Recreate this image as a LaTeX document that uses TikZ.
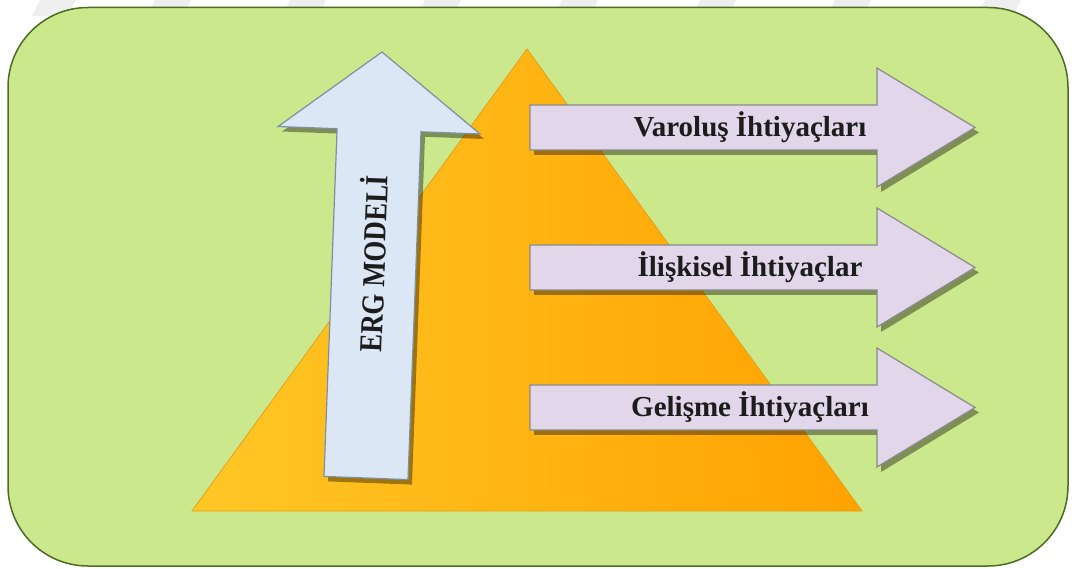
\documentclass[tikz,border=0pt]{standalone}
\usepackage{fontspec}
\setmainfont{Liberation Serif}
\usepackage{graphicx}

\definecolor{panelgreen}{HTML}{CCE88C}
\definecolor{paneledge}{HTML}{4E6B24}
\definecolor{pyrleft}{HTML}{FFC726}
\definecolor{pyrright}{HTML}{FFA200}
\definecolor{pyredge}{HTML}{E3A01A}
\definecolor{upfill}{HTML}{DCE7F5}
\definecolor{upedge}{HTML}{7D8FA3}
\definecolor{needfill}{HTML}{E2D6EA}
\definecolor{neededge}{HTML}{8A8A8A}
\definecolor{ink}{HTML}{1C1C1C}
\definecolor{bandgray}{HTML}{EEEEEE}

\begin{document}
\begin{tikzpicture}[x=1pt,y=-1pt,
  panel/.style={fill=panelgreen,draw=paneledge,line width=1.5pt,rounded corners=80pt},
  pyramid/.style={left color=pyrleft,right color=pyrright,draw=pyredge,line width=0.8pt},
  dropshadow/.style={fill=black,opacity=0.38,draw=none},
  uparrow/.style={fill=upfill,draw=upedge,line width=1.2pt,line join=miter},
  needarrow/.style={fill=needfill,draw=neededge,line width=1.2pt,line join=miter},
  needlabel/.style={font=\bfseries\fontsize{29}{34}\selectfont,text=ink,inner sep=0pt,anchor=base},
  modellabel/.style={text=ink,inner sep=0pt,anchor=base}
]
\useasboundingbox (0,0) rectangle (1072,569);

% faint slanted bands along the top edge
\foreach \xa in {40,155,290,425,562,700,835,985}
  \fill[bandgray] (\xa,0) -- ({\xa+36},0) -- ({\xa+28},16) -- ({\xa-8},16) -- cycle;

% green panel
\draw[panel] (8,7.5) rectangle (1068,566);

% pyramid
\draw[pyramid] (527,49) -- (862,511) -- (192,511) -- cycle;

% ERG up arrow (slightly tilted) with its shadow
\fill[dropshadow,shift={(4,5)}]
  (382,52) -- (480,134) -- (421,131.8) -- (408,479.6) -- (324,476.4) -- (337.1,128.7) -- (278.1,126.5) -- cycle;
\draw[uparrow]
  (382,52) -- (480,134) -- (421,131.8) -- (408,479.6) -- (324,476.4) -- (337.1,128.7) -- (278.1,126.5) -- cycle;
\node[modellabel,rotate=87.85] (erg) at (385,264)
  {\scalebox{0.84}[1]{\bfseries\fontsize{32}{38}\selectfont ERG MODELİ}};

% need arrows
\foreach \c/\nm/\txt in {127.5/varolus/Varoluş İhtiyaçları,
                         267.5/iliskisel/İlişkisel İhtiyaçlar,
                         407.5/gelisme/Gelişme İhtiyaçları}{
  \fill[dropshadow,shift={(4,5)}]
    (530,{\c-22.5}) -- (877,{\c-22.5}) -- (877,{\c-59.5}) -- (975,\c)
    -- (877,{\c+59.5}) -- (877,{\c+22.5}) -- (530,{\c+22.5}) -- cycle;
  \draw[needarrow]
    (530,{\c-22.5}) -- (877,{\c-22.5}) -- (877,{\c-59.5}) -- (975,\c)
    -- (877,{\c+59.5}) -- (877,{\c+22.5}) -- (530,{\c+22.5}) -- cycle;
  \node[needlabel] (\nm) at (750,{\c+9.5}) {\txt};
}
\end{tikzpicture}
\end{document}
